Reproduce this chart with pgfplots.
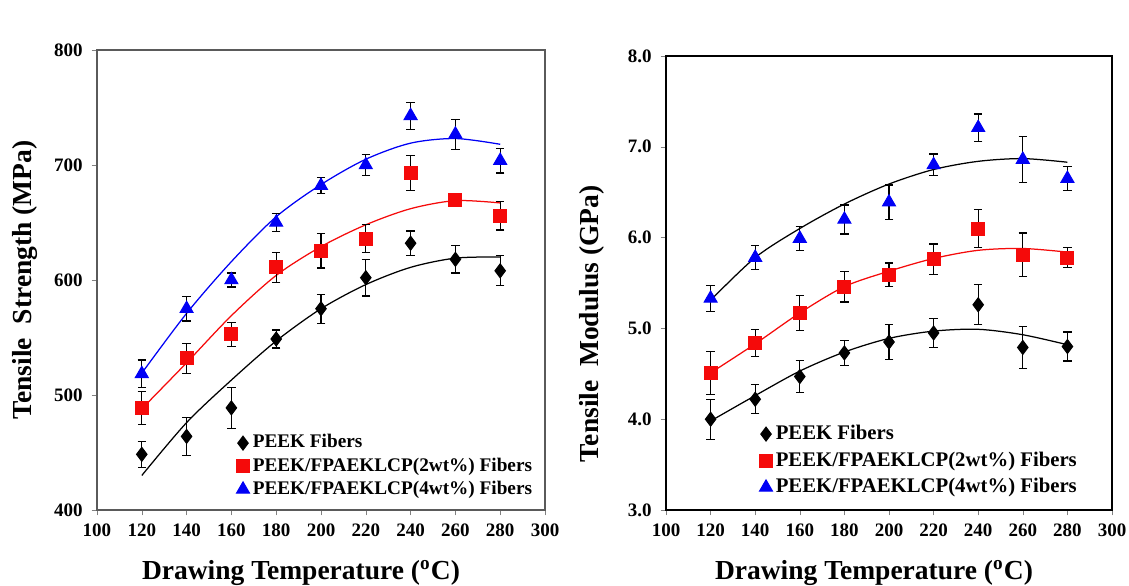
\documentclass[border=0pt]{standalone}
\usepackage{fontspec}
\setmainfont{Liberation Serif}
\usepackage{pgfplots}
\pgfplotsset{compat=1.18}

\definecolor{cred}{RGB}{245,10,10}
\definecolor{cblue}{RGB}{0,0,245}
\definecolor{cbox}{RGB}{90,90,90}

\pgfplotsset{
  panel/.style={
    scale only axis, anchor=south west,
    xmin=100, xmax=300, xtick={100,120,...,300},
    tick align=outside, xtick pos=bottom, ytick pos=left,
    major tick length=2.2pt,
    /pgf/number format/assume math mode=true,
    ticklabel style={font=\bfseries\fontsize{7.6}{8}\selectfont},
    xlabel style={font=\bfseries\fontsize{11}{12}\selectfont,
      at={(rel axis cs:0.5,0)}, anchor=center, yshift=-25pt},
    ylabel style={font=\bfseries\fontsize{11}{12}\selectfont, anchor=center},
    legend style={draw=none, fill=none, inner sep=0pt, legend cell align=left,
      nodes={inner sep=0.5pt},
      /tikz/every odd column/.append style={column sep=0.8pt}},
    legend image code/.code={\draw[#1] plot coordinates {(0cm,0cm)};},
    error bars/y dir=both, error bars/y explicit,
    error bars/error bar style={black, line width=0.5pt},
    error bars/error mark options={black, line width=0.5pt, mark size=1.7pt, rotate=90},
  },
  fit/.style={no marks, smooth, line width=0.5pt, forget plot},
  sblack/.style={only marks, mark=diamond*, mark size=2.8pt, black, mark options={fill=black}},
  sred/.style={only marks, mark=square*, mark size=2.6pt, cred, mark options={fill=cred}},
  sblue/.style={only marks, mark=triangle*, mark size=3pt, cblue, mark options={fill=cblue}},
}

\begin{document}
\begin{tikzpicture}
\useasboundingbox (0,0) rectangle (451.6pt,234.4pt);

% (a) tensile strength
\begin{axis}[panel,
  at={(38.8pt,30.4pt)}, width=179.2pt, height=184pt,
  ymin=400, ymax=800, ytick={400,500,...,800},
  axis line style={cbox, line width=0.6pt},
  xlabel={Drawing Temperature (\textsuperscript{o}C)},
  ylabel={Tensile\ \ Strength (MPa)},
  xlabel style={xshift=-8pt},
  ylabel style={at={(rel axis cs:-0.161,0.5)}},
  legend style={at={(axis cs:295,409)}, anchor=south east,
    font=\bfseries\fontsize{7.7}{8.5}\selectfont, row sep=1.4pt},
]
\addplot[fit, black] coordinates {(120,430) (140,476) (160,513) (180,547) (200,575) (220,596) (240,611) (260,619) (280,620)};
\addplot[fit, cred] coordinates {(120,488) (140,528) (160,569) (180,604) (200,629) (220,648) (240,662) (260,669) (280,667)};
\addplot[fit, cblue] coordinates {(120,519) (140,571) (160,616) (180,655) (200,683) (220,705) (240,719) (260,723) (280,718)};

\addplot[sblack] table[x=x, y=y, y error=e] {
x y e
120 448.4 11.4
140 464 16.3
160 488.8 18
180 548.7 7.8
200 575 12.7
220 602 16
240 632 10.5
260 618 12
280 608 13
};
\addplot[sred] table[x=x, y=y, y error=e] {
x y e
120 488.5 14.4
140 532 13
160 552.7 10.4
180 611 13
200 625.5 15
220 636 12
240 693 15
260 669.5 5
280 656 12.5
};
\addplot[sblue] table[x=x, y=y, y error=e] {
x y e
120 518.4 12
140 575 10.7
160 600 6
180 650 7.6
200 682 7
220 700 9.4
240 742.8 11.7
260 726.7 13
280 703.8 10.7
};
\legend{PEEK Fibers, PEEK/FPAEKLCP(2wt\%) Fibers, PEEK/FPAEKLCP(4wt\%) Fibers}
\node[anchor=south east, inner sep=0pt, font=\bfseries\fontsize{12.5}{13}\selectfont] at (rel axis cs:1,1) [yshift=2pt] {(a)};
\end{axis}

% (b) tensile modulus
\begin{axis}[panel,
  at={(266.4pt,30.4pt)}, width=178.4pt, height=181.6pt,
  ymin=3, ymax=8, ytick={3,4,...,8},
  yticklabel style={/pgf/number format/.cd, fixed, fixed zerofill, precision=1},
  axis line style={black, line width=0.9pt},
  xlabel={Drawing Temperature (\textsuperscript{o}C)},
  ylabel={Tensile\ \ Modulus (GPa)},
  xlabel style={xshift=-6pt},
  ylabel style={at={(rel axis cs:-0.166,0.41)}},
  legend style={at={(axis cs:285,3.13)}, anchor=south east,
    font=\bfseries\fontsize{8.3}{9}\selectfont, row sep=2.4pt},
]
\addplot[fit, black] coordinates {(120,3.98) (140,4.26) (160,4.53) (180,4.74) (200,4.89) (220,4.97) (240,4.99) (260,4.93) (280,4.82)};
\addplot[fit, cred] coordinates {(120,4.51) (140,4.83) (160,5.17) (180,5.46) (200,5.63) (220,5.77) (240,5.86) (260,5.88) (280,5.84)};
\addplot[fit, black] coordinates {(120,5.31) (140,5.78) (160,6.10) (180,6.37) (200,6.59) (220,6.75) (240,6.84) (260,6.87) (280,6.83)};

\addplot[sblack] table[x=x, y=y, y error=e] {
x y e
120 4.00 0.22
140 4.22 0.16
160 4.47 0.18
180 4.73 0.14
200 4.85 0.19
220 4.95 0.16
240 5.26 0.22
260 4.79 0.23
280 4.80 0.16
};
\addplot[sred] table[x=x, y=y, y error=e] {
x y e
120 4.51 0.235
140 4.84 0.15
160 5.17 0.19
180 5.46 0.17
200 5.59 0.13
220 5.76 0.17
240 6.10 0.21
260 5.81 0.24
280 5.78 0.11
};
\addplot[sblue] table[x=x, y=y, y error=e] {
x y e
120 5.33 0.14
140 5.78 0.13
160 5.99 0.13
180 6.20 0.16
200 6.39 0.19
220 6.80 0.12
240 7.21 0.15
260 6.86 0.25
280 6.65 0.13
};
\legend{PEEK Fibers, PEEK/FPAEKLCP(2wt\%) Fibers, PEEK/FPAEKLCP(4wt\%) Fibers}
\node[anchor=south east, inner sep=0pt, font=\bfseries\fontsize{12.5}{13}\selectfont] at (rel axis cs:1,1) [yshift=1pt] {(b)};
\end{axis}
\end{tikzpicture}
\end{document}
